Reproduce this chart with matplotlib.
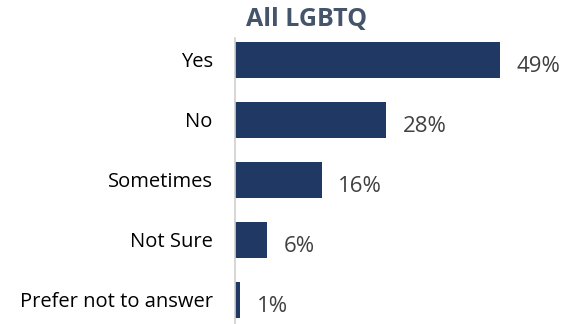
import matplotlib.pyplot as plt

categories = ["Yes", "No", "Sometimes", "Not Sure", "Prefer not to answer"]
values = [49, 28, 16, 6, 1]
labels = ["49%", "28%", "16%", "6%", "1%"]

plt.rcParams['font.family'] = ['Open Sans', 'DejaVu Sans']

fig = plt.figure(figsize=(5.65, 3.24), dpi=100)
ax = fig.add_axes([235 / 565, 0, 330 / 565, 1 - 38 / 324])

pos = list(range(len(categories)))
ax.barh(pos, values, height=0.6, color="#203864")
for p, v, t in zip(pos, values, labels):
    ax.text(v + 3.0, p + 0.11, t, va="center", ha="left", fontsize=16, color="#404040")

ax.set_xlim(0, 61)
ax.set_ylim(4.4, -0.36)
ax.set_yticks(pos)
ax.set_yticklabels(categories, fontsize=14.5)
ax.tick_params(axis="y", length=0, pad=16)
ax.set_xticks([])
for s in ["top", "right", "bottom"]:
    ax.spines[s].set_visible(False)
ax.spines["left"].set_color("#d0d0d0")
ax.spines["left"].set_linewidth(1.2)

fig.text(307 / 565, 1 - 19 / 324, "All LGBTQ", ha="center", va="center",
         fontsize=18, fontweight="bold", color="#44546A")

fig.savefig("out.png", dpi=100)
